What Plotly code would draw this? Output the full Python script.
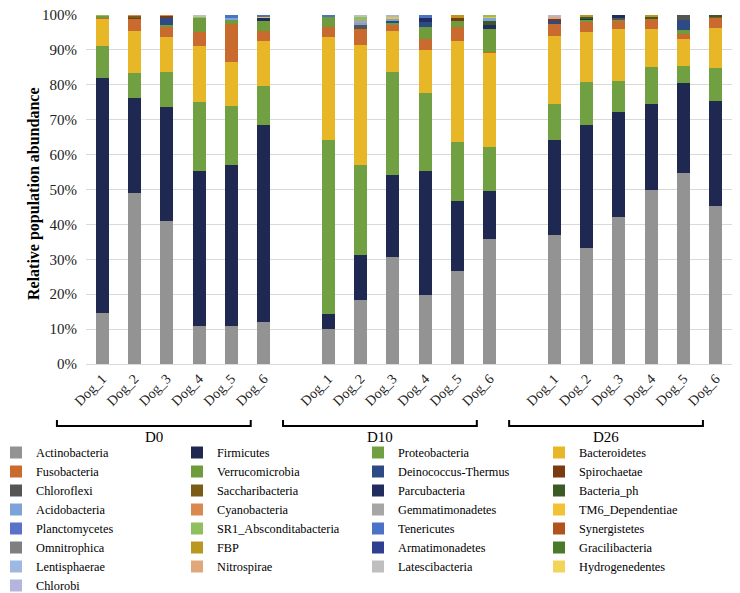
import plotly.graph_objects as go

# ---------------- data ----------------
groups = ["D0", "D10", "D26"]
dogs = ["Dog_1", "Dog_2", "Dog_3", "Dog_4", "Dog_5", "Dog_6"]

actinobacteria = [14.7, 49.1, 41.1, 10.8, 11.0, 12.1, 10.0, 18.3, 30.6, 19.7, 26.6, 35.7, 36.9, 33.3, 42.0, 50.0, 54.7, 45.4]
firmicutes = [67.2, 27.2, 32.4, 44.4, 45.9, 56.3, 4.2, 12.8, 23.5, 35.5, 20.1, 13.8, 27.4, 35.1, 30.2, 24.6, 25.9, 29.9]
proteobacteria = [9.1, 7.0, 10.1, 19.8, 16.9, 11.2, 50.1, 25.8, 29.6, 22.4, 16.9, 12.7, 10.3, 12.4, 9.0, 10.5, 4.8, 9.4]
bacteroidetes = [7.9, 12.0, 10.0, 16.1, 12.6, 12.9, 29.4, 34.6, 11.8, 12.3, 28.9, 27.1, 19.3, 14.2, 14.7, 10.8, 7.8, 11.7]
fusobacteria = [0.3, 3.6, 3.0, 4.0, 11.1, 2.8, 2.8, 4.6, 1.5, 3.3, 4.0, 0.2, 3.4, 3.2, 2.6, 3.0, 1.4, 2.9]
verrucomicrobia = [0.6, 0, 0.5, 4.3, 1.2, 2.9, 3.2, 0, 0.8, 3.4, 1.8, 6.4, 0, 0.4, 0.3, 0, 1.2, 0]
deinococcus_thermus = [0, 0, 2.3, 0, 0, 0, 0, 0, 0.4, 1.4, 0, 0, 1.0, 0, 0, 0, 2.9, 0]
spirochaetae = [0, 0.3, 0.4, 0, 0, 0, 0, 0, 0, 0, 0.9, 0, 0.8, 0, 0, 0, 0, 0]
chloroflexi = [0, 0.2, 0, 0, 0, 0, 0, 1.0, 0, 0, 0, 0, 0, 0, 0.4, 0, 1.3, 0]
saccharibacteria = [0, 0.5, 0, 0, 0, 0, 0, 0, 0, 0, 0, 0, 0, 0, 0, 0, 0, 0.4]
parcubacteria = [0, 0, 0, 0, 0, 1.0, 0, 0, 0, 1.2, 0, 1.2, 0, 0.3, 0.8, 0, 0, 0]
bacteria_ph = [0, 0, 0, 0, 0, 0, 0, 0, 0, 0, 0, 1.2, 0, 0.5, 0, 0.5, 0, 0.3]
acidobacteria = [0, 0, 0, 0, 0.4, 0, 0, 0.6, 0.7, 0, 0, 1.1, 0, 0, 0, 0, 0, 0]
cyanobacteria = [0, 0.1, 0.2, 0, 0, 0, 0, 0, 0, 0, 0, 0, 0, 0, 0, 0, 0, 0]
gemmatimonadetes = [0, 0, 0, 0, 0, 0, 0, 1.0, 0, 0, 0, 0, 0, 0, 0, 0, 0, 0]
tm6_dependentiae = [0, 0, 0, 0, 0, 0.3, 0, 0, 0.5, 0, 0, 0.3, 0, 0, 0, 0, 0, 0]
planctomycetes = [0] * 18
sr1_absconditabacteria = [0.2, 0, 0, 0.3, 0, 0, 0, 0.6, 0, 0, 0, 0.3, 0, 0, 0, 0, 0, 0]
tenericutes = [0, 0, 0, 0, 0.9, 0.5, 0.3, 0, 0, 0.8, 0, 0, 0, 0, 0, 0, 0, 0]
synergistetes = [0] * 18
omnitrophica = [0] * 18
fbp = [0, 0, 0, 0, 0, 0, 0, 0, 0, 0, 0.8, 0, 0, 0.6, 0, 0.6, 0, 0]
armatimonadetes = [0] * 18
gracilibacteria = [0] * 18
lentisphaerae = [0, 0, 0, 0, 0, 0, 0, 0, 0.6, 0, 0, 0, 0, 0, 0, 0, 0, 0]
nitrospirae = [0, 0, 0, 0, 0, 0, 0, 0, 0, 0, 0, 0, 0.5, 0, 0, 0, 0, 0]
latescibacteria = [0, 0, 0, 0.3, 0, 0, 0, 0.7, 0, 0, 0, 0, 0, 0, 0, 0, 0, 0]
hydrogenedentes = [0] * 18
chlorobi = [0, 0, 0, 0, 0, 0, 0, 0, 0, 0, 0, 0, 0.4, 0, 0, 0, 0, 0]

taxa = [
    ("Actinobacteria", actinobacteria, "#939393"),
    ("Firmicutes", firmicutes, "#1F2850"),
    ("Proteobacteria", proteobacteria, "#70A041"),
    ("Bacteroidetes", bacteroidetes, "#E7B727"),
    ("Fusobacteria", fusobacteria, "#C96A2E"),
    ("Verrucomicrobia", verrucomicrobia, "#6E9C3D"),
    ("Deinococcus-Thermus", deinococcus_thermus, "#2E4A86"),
    ("Spirochaetae", spirochaetae, "#7A3A12"),
    ("Chloroflexi", chloroflexi, "#555555"),
    ("Saccharibacteria", saccharibacteria, "#7A5C14"),
    ("Parcubacteria", parcubacteria, "#222C5E"),
    ("Bacteria_ph", bacteria_ph, "#3B5A26"),
    ("Acidobacteria", acidobacteria, "#7EA2DA"),
    ("Cyanobacteria", cyanobacteria, "#D9894E"),
    ("Gemmatimonadetes", gemmatimonadetes, "#A6A6A6"),
    ("TM6_Dependentiae", tm6_dependentiae, "#F1C232"),
    ("Planctomycetes", planctomycetes, "#5B72C9"),
    ("SR1_Absconditabacteria", sr1_absconditabacteria, "#8FBF5E"),
    ("Tenericutes", tenericutes, "#4A72C6"),
    ("Synergistetes", synergistetes, "#B0531F"),
    ("Omnitrophica", omnitrophica, "#7F7F7F"),
    ("FBP", fbp, "#B8981E"),
    ("Armatimonadetes", armatimonadetes, "#2F3F92"),
    ("Gracilibacteria", gracilibacteria, "#4A7A28"),
    ("Lentisphaerae", lentisphaerae, "#9DB9E2"),
    ("Nitrospirae", nitrospirae, "#E0A87A"),
    ("Latescibacteria", latescibacteria, "#BFBFBF"),
    ("Hydrogenedentes", hydrogenedentes, "#F2D45A"),
    ("Chlorobi", chlorobi, "#B3B5DC"),
]

# ---------------- layout helpers ----------------
# the page body adds an 8px offset; positions below are given in page pixels
OFF = 8
W, H = 740 - OFF, 593 - OFF
PL, PR, PT, PB = 86, 732, 15, 364          # plot area in page pixels
ML, MR, MT, MB = PL - OFF, 740 - PR, PT - OFF, 593 - PB
PW, PH = PR - PL, PB - PT
GAP = 1  # empty slot between groups
xpos = []
for g in range(len(groups)):
    for d in range(len(dogs)):
        xpos.append(g * (len(dogs) + GAP) + d)
xmin, xmax = -0.5, len(groups) * (len(dogs) + GAP) - GAP - 0.5
ticktext = [d for _ in groups for d in dogs]


def xp(v):
    return (v - xmin) / (xmax - xmin)


def xpix(px):
    return (px - PL) / PW


def yp(py):
    return (PB - py) / PH


FONT = "Liberation Serif"

fig = go.Figure()
for name, vals, col in taxa:
    fig.add_trace(go.Bar(x=xpos, y=vals, name=name, marker=dict(color=col, line=dict(width=0))))

shapes = []
annotations = []
for g, gname in enumerate(groups):
    start = g * (len(dogs) + GAP)
    x0, x1 = xp(start - 1.4), xp(start + 4.6)
    ytop, ybot = yp(420), yp(426)
    shapes.append(dict(type="path", xref="paper", yref="paper",
                       path=f"M {x0},{ytop} L {x0},{ybot} L {x1},{ybot} L {x1},{ytop}",
                       line=dict(color="black", width=2)))
    annotations.append(dict(text=gname, xref="paper", yref="paper", x=xp(start + 1.6), y=yp(437),
                            showarrow=False, font=dict(family=FONT, size=15, color="black"),
                            xanchor="center", yanchor="middle"))

annotations.append(dict(text="<b>Relative population abundance</b>", xref="paper", yref="paper",
                        x=xpix(34), y=yp(194), textangle=-90, showarrow=False,
                        font=dict(family=FONT, size=16, color="black"),
                        xanchor="center", yanchor="middle"))

fig.update_layout(
    width=W, height=H,
    margin=dict(l=ML, r=MR, t=MT, b=MB, autoexpand=False),
    barmode="stack", bargap=0.6,
    plot_bgcolor="white", paper_bgcolor="white",
    font=dict(family=FONT, size=15, color="black"),
    xaxis=dict(range=[xmin, xmax], tickmode="array", tickvals=xpos, ticktext=ticktext,
               tickangle=-45, tickfont=dict(family=FONT, size=14, color="#222"),
               showgrid=False, showline=True, linecolor="#D9D9D9", linewidth=1,
               ticks="", zeroline=False),
    yaxis=dict(range=[0, 100], tickmode="linear", tick0=0, dtick=10, ticksuffix="%",
               tickfont=dict(family=FONT, size=15, color="#222"), ticklabelstandoff=8,
               ticklabeloverflow="allow",
               showgrid=True, gridcolor="#D9D9D9", gridwidth=1, zeroline=False,
               showline=False, ticks=""),
    legend=dict(orientation="h", x=xpix(-4), xanchor="left", y=yp(438), yanchor="top",
                entrywidth=136, entrywidthmode="pixels", traceorder="normal",
                font=dict(family=FONT, size=12.3, color="black"), itemwidth=30,
                bgcolor="rgba(0,0,0,0)"),
    shapes=shapes, annotations=annotations,
    showlegend=True,
)

fig.write_html("out.html")
